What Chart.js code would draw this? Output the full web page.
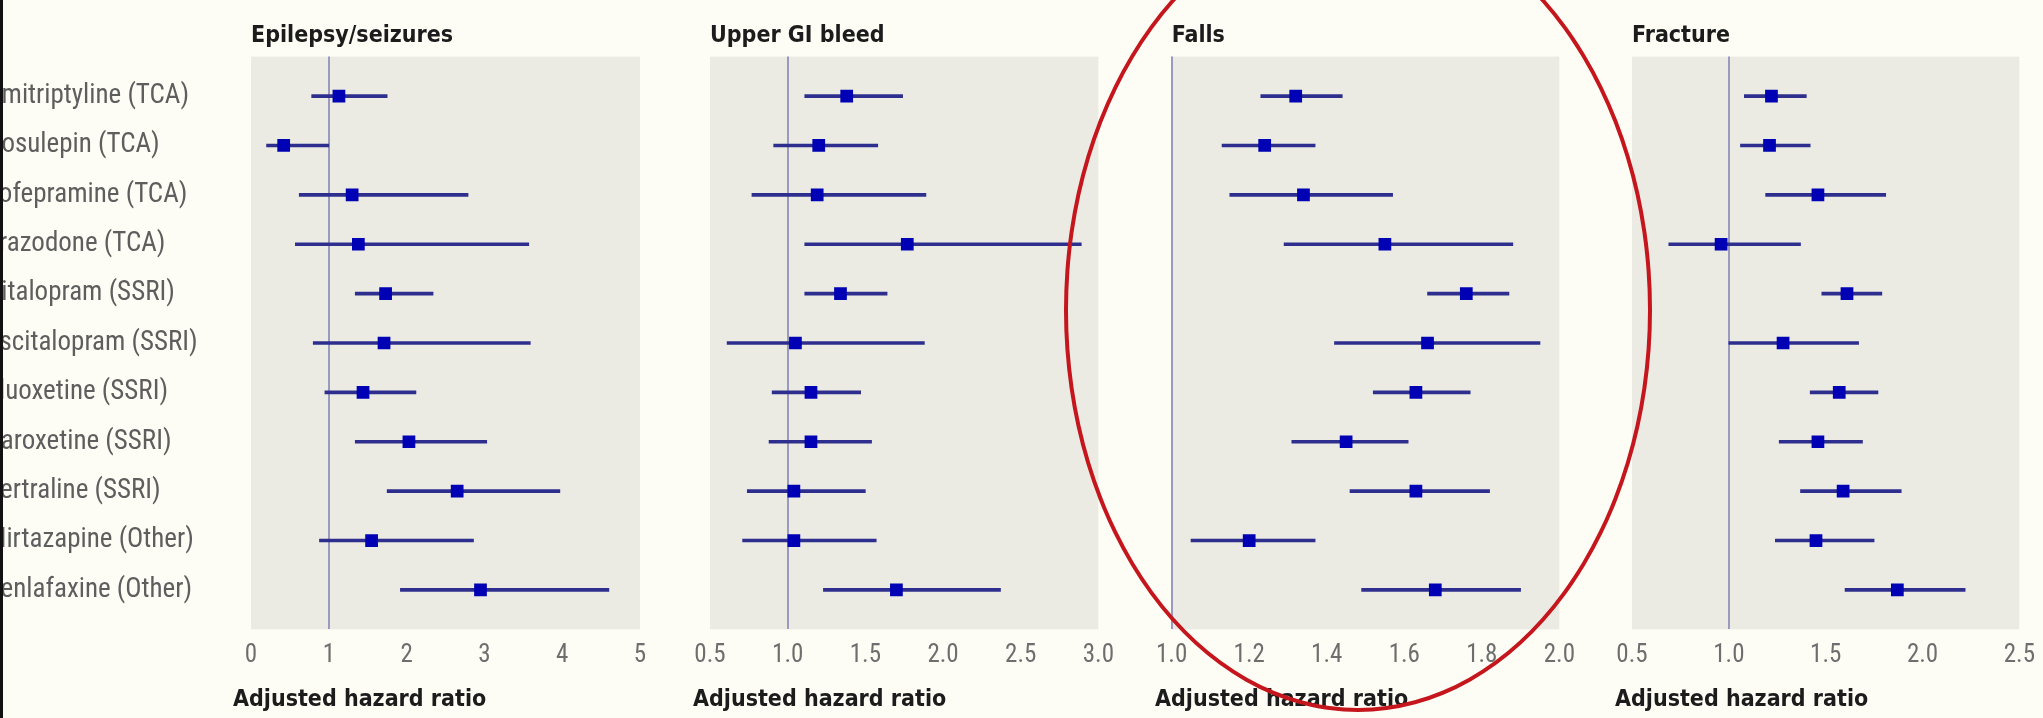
<!DOCTYPE html>
<html>
<head>
<meta charset="utf-8">
<script src="https://cdn.jsdelivr.net/npm/chart.js@4.4.1/dist/chart.umd.min.js"></script>
<style>
  html, body { margin: 0; padding: 0; width: 2043px; height: 718px; overflow: hidden; background: #fdfdf5; }
  body { position: relative; }
  canvas { position: absolute; top: 0; }
  #edge { position: absolute; left: 0; top: 0; width: 3px; height: 718px; background: #111; }
  #ring { position: absolute; left: 1064px; top: -92px; width: 588px; height: 804px; box-sizing: border-box;
          border: 4px solid #c4161c; border-radius: 50%; pointer-events: none; }
</style>
</head>
<body>
<canvas id="epilepsy"></canvas>
<canvas id="gibleed"></canvas>
<canvas id="falls"></canvas>
<canvas id="fracture"></canvas>
<div id="ring"></div>
<div id="edge"></div>
<script>
    'use strict';

    var drugs = ['Amitriptyline (TCA)', 'Dosulepin (TCA)', 'Lofepramine (TCA)', 'Trazodone (TCA)',
        'Citalopram (SSRI)', 'Escitalopram (SSRI)', 'Fluoxetine (SSRI)', 'Paroxetine (SSRI)',
        'Sertraline (SSRI)', 'Mirtazapine (Other)', 'Venlafaxine (Other)'];

    var epilepsyHR   = [1.13, 0.42, 1.30, 1.38, 1.73, 1.71, 1.44, 2.03, 2.65, 1.55, 2.95];
    var epilepsyLow  = [0.78, 0.20, 0.62, 0.57, 1.34, 0.80, 0.95, 1.34, 1.75, 0.88, 1.92];
    var epilepsyHigh = [1.75, 1.00, 2.79, 3.57, 2.34, 3.59, 2.12, 3.03, 3.97, 2.86, 4.60];
    var epilepsyTicks = ['0', '1', '2', '3', '4', '5'];

    var gibleedHR   = [1.38, 1.20, 1.19, 1.77, 1.34, 1.05, 1.15, 1.15, 1.04, 1.04, 1.70];
    var gibleedLow  = [1.11, 0.91, 0.77, 1.11, 1.11, 0.61, 0.90, 0.88, 0.74, 0.71, 1.23];
    var gibleedHigh = [1.74, 1.58, 1.89, 2.89, 1.64, 1.88, 1.47, 1.54, 1.50, 1.57, 2.37];
    var gibleedTicks = ['0.5', '1.0', '1.5', '2.0', '2.5', '3.0'];

    var fallsHR   = [1.32, 1.24, 1.34, 1.55, 1.76, 1.66, 1.63, 1.45, 1.63, 1.20, 1.68];
    var fallsLow  = [1.23, 1.13, 1.15, 1.29, 1.66, 1.42, 1.52, 1.31, 1.46, 1.05, 1.49];
    var fallsHigh = [1.44, 1.37, 1.57, 1.88, 1.87, 1.95, 1.77, 1.61, 1.82, 1.37, 1.90];
    var fallsTicks = ['1.0', '1.2', '1.4', '1.6', '1.8', '2.0'];

    var fractureHR   = [1.22, 1.21, 1.46, 0.96, 1.61, 1.28, 1.57, 1.46, 1.59, 1.45, 1.87];
    var fractureLow  = [1.08, 1.06, 1.19, 0.69, 1.48, 1.00, 1.42, 1.26, 1.37, 1.24, 1.60];
    var fractureHigh = [1.40, 1.42, 1.81, 1.37, 1.79, 1.67, 1.77, 1.69, 1.89, 1.75, 2.22];
    var fractureTicks = ['0.5', '1.0', '1.5', '2.0', '2.5'];

    var LABEL_FONT = "'Roboto Condensed', 'DejaVu Sans Condensed', sans-serif";
    var HEAD_FONT = "'DejaVu Sans Condensed', 'DejaVu Sans', sans-serif";
    Chart.defaults.font.family = LABEL_FONT;

    // grey panel behind the plot area
    var plotBackground = {
        id: 'plotBackground',
        beforeDraw: function (chart) {
            var a = chart.chartArea;
            var ctx = chart.ctx;
            ctx.save();
            ctx.fillStyle = '#ebebe4';
            ctx.fillRect(a.left, a.top, a.right - a.left, a.bottom - a.top);
            ctx.restore();
        }
    };

    function forestPanel(id, title, hr, low, high, ticks, box, showDrugs) {
        var canvas = document.getElementById(id);
        var left = showDrugs ? -14 : box.caption - 10;
        canvas.width = box.right + 24 - left;
        canvas.height = 718;
        canvas.style.left = left + 'px';
        var tickValues = ticks.map(parseFloat);

        return new Chart(canvas, {
            type: 'scatter',
            data: {
                datasets: [
                    {
                        type: 'scatter',
                        data: hr.map(function (v, i) { return { x: v, y: i }; }),
                        pointStyle: 'rect',
                        pointRadius: 9,
                        pointHoverRadius: 9,
                        backgroundColor: '#0000b4',
                        borderWidth: 0,
                        order: 0
                    },
                    {
                        type: 'bar',
                        indexAxis: 'y',
                        data: low.map(function (v, i) { return { x: [v, high[i]], y: i }; }),
                        barThickness: 3,
                        grouped: false,
                        backgroundColor: '#2e2e8e',
                        order: 1
                    }
                ]
            },
            options: {
                responsive: false,
                animation: false,
                events: [],
                layout: { padding: { left: box.caption - left, right: 24, top: 0, bottom: 0 } },
                plugins: {
                    legend: { display: false },
                    tooltip: { enabled: false },
                    title: {
                        display: true, text: title, align: 'start', fullSize: false,
                        color: '#1c1c1c', font: { family: HEAD_FONT, size: 23, weight: 'bold' },
                        padding: { top: 22, bottom: 7 }
                    },
                    subtitle: {
                        display: true, position: 'bottom', text: 'Adjusted hazard ratio', align: 'start', fullSize: true,
                        color: '#1c1c1c', font: { family: HEAD_FONT, size: 23, weight: 'bold' },
                        padding: { top: 5, bottom: 4 }
                    }
                },
                scales: {
                    x: {
                        type: 'linear',
                        min: tickValues[0],
                        max: tickValues[tickValues.length - 1],
                        offset: false,
                        afterBuildTicks: function (s) {
                            s.ticks = tickValues.map(function (v) { return { value: v }; });
                        },
                        ticks: {
                            callback: function (v, i) { return ticks[i]; },
                            color: '#6e6e6e', font: { size: 25 }, padding: 11,
                            maxRotation: 0, autoSkip: false
                        },
                        grid: {
                            color: function (c) { return c.tick && c.tick.value === 1 ? '#9a9abf' : 'rgba(0,0,0,0)'; },
                            lineWidth: 2,
                            drawTicks: false,
                            offset: false
                        },
                        border: { display: false }
                    },
                    y: {
                        type: 'linear',
                        reverse: true,
                        min: -0.8,
                        max: 10.8,
                        offset: false,
                        afterBuildTicks: function (s) {
                            s.ticks = drugs.map(function (d, i) { return { value: i }; });
                        },
                        afterFit: function (s) { s.width = box.plot - box.caption; },
                        grid: { display: false, offset: false },
                        border: { display: false },
                        ticks: {
                            display: showDrugs,
                            mirror: true,
                            padding: -(box.plot - left),
                            callback: function (v, i) { return drugs[i]; },
                            color: '#5e5e5e', font: { size: 27 }
                        }
                    }
                }
            },
            plugins: [plotBackground]
        });
    }

    forestPanel('epilepsy', 'Epilepsy/seizures', epilepsyHR, epilepsyLow, epilepsyHigh, epilepsyTicks,
        { caption: 233, plot: 251, right: 640 }, true);
    forestPanel('gibleed', 'Upper GI bleed', gibleedHR, gibleedLow, gibleedHigh, gibleedTicks,
        { caption: 693, plot: 710, right: 1101 }, false);
    forestPanel('falls', 'Falls', fallsHR, fallsLow, fallsHigh, fallsTicks,
        { caption: 1155, plot: 1169, right: 1562 }, false);
    forestPanel('fracture', 'Fracture', fractureHR, fractureLow, fractureHigh, fractureTicks,
        { caption: 1615, plot: 1632, right: 2022 }, false);
</script>
</body>
</html>
